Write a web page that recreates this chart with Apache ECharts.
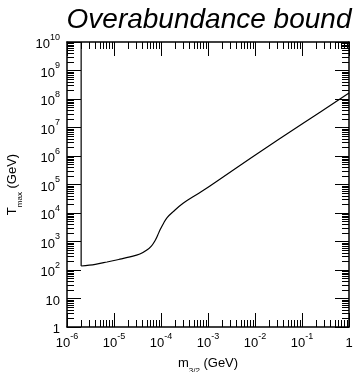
<!DOCTYPE html>
<html>
<head>
<meta charset="utf-8">
<style>
  html, body { margin: 0; padding: 0; background: #fff; }
  #chart { width: 356px; height: 372px; }
</style>
<script src="https://cdn.jsdelivr.net/npm/echarts@6/dist/echarts.min.js"></script>
</head>
<body>
<div id="chart"></div>
<script>
// Upper bound on the reheating temperature from gravitino overabundance
const titleText = 'Overabundance bound';
// Gravitino mass m_3/2 (GeV) along the bound
const massGeV = [2.0e-6, 2.0e-6, 4.0e-6, 7.1e-6, 1.26e-5, 2.19e-5, 3.55e-5, 5.0e-5, 6.3e-5, 7.4e-5,
                 8.5e-5, 9.5e-5, 1.15e-4, 1.35e-4, 1.82e-4, 2.95e-4, 5.9e-4, 1.1e-3, 1.0e-2, 0.1, 1.0];
// Maximum reheating temperature T_max (GeV)
const tMaxGeV = [1e10, 138, 158, 191, 234, 288, 363, 501, 708, 1047,
                 1660, 2512, 4571, 6918, 1.12e4, 2.19e4, 4.57e4, 8.9e4, 1.07e6, 1.32e7, 1.62e8];
// Axis ranges and decade tick values
const xDecades = [1e-6, 1e-5, 1e-4, 1e-3, 1e-2, 1e-1, 1];
const yDecades = [1, 1e1, 1e2, 1e3, 1e4, 1e5, 1e6, 1e7, 1e8, 1e9, 1e10];

function minorTicks(decades) {
  const out = [];
  for (let i = 0; i < decades.length - 1; i++) {
    for (let k = 2; k <= 9; k++) out.push(k * decades[i]);
  }
  return out;
}

function powerLabel(v) {
  const n = Math.round(Math.log10(v));
  if (n === 0) return '{b|1}';
  if (n === 1) return '{b|10}';
  return '{b|10}{s|' + n + '}';
}

const font = 'Liberation Sans, Arial, sans-serif';
const labelRich = {
  b: { fontSize: 13, fontFamily: font, color: '#000', lineHeight: 18, verticalAlign: 'bottom' },
  s: { fontSize: 9, fontFamily: font, color: '#000', lineHeight: 18, verticalAlign: 'top' }
};

function makeAxis(kind, pos, major, decades, showLine, showLabel) {
  const isX = kind === 'x';
  const ax = {
    type: 'log',
    logBase: 10,
    position: pos,
    min: decades[0],
    max: decades[decades.length - 1],
    axisLine: { show: showLine, onZero: false, lineStyle: { color: '#000', width: 1.5 } },
    axisTick: {
      show: true,
      inside: true,
      length: major ? 14 : 7,
      customValues: major ? decades : minorTicks(decades),
      lineStyle: { color: '#000', width: 1 }
    },
    axisLabel: { show: false },
    splitLine: { show: false },
    minorTick: { show: false },
    minorSplitLine: { show: false }
  };
  if (showLabel) {
    ax.axisLabel = {
      show: true,
      customValues: decades,
      margin: isX ? 5 : 7,
      formatter: powerLabel,
      rich: labelRich
    };
  }
  return ax;
}

const xAxes = [
  makeAxis('x', 'bottom', true, xDecades, true, true),
  makeAxis('x', 'bottom', false, xDecades, false, false),
  makeAxis('x', 'top', true, xDecades, true, false),
  makeAxis('x', 'top', false, xDecades, false, false)
];
const yAxes = [
  makeAxis('y', 'left', true, yDecades, true, true),
  makeAxis('y', 'left', false, yDecades, false, false),
  makeAxis('y', 'right', true, yDecades, true, false),
  makeAxis('y', 'right', false, yDecades, false, false)
];

xAxes[0].name = '{b|m}{s|3/2}{b| (GeV)}';
xAxes[0].nameLocation = 'middle';
xAxes[0].nameGap = 30;
xAxes[0].nameTextStyle = {
  rich: {
    b: { fontSize: 13, fontFamily: font, color: '#000', lineHeight: 18, verticalAlign: 'top' },
    s: { fontSize: 8, fontFamily: font, color: '#000', lineHeight: 18, verticalAlign: 'bottom' }
  }
};
yAxes[0].name = '{b|T}{s|max}{b| (GeV)}';
yAxes[0].nameLocation = 'middle';
yAxes[0].nameGap = 43;
yAxes[0].nameRotate = 90;
yAxes[0].nameTextStyle = xAxes[0].nameTextStyle;

const edge = massGeV.slice(0, 2).map((m, i) => [m, tMaxGeV[i]]);
const curve = massGeV.slice(1).map((m, i) => [m, tMaxGeV[i + 1]]);

const chart = echarts.init(document.getElementById('chart'), null, { renderer: 'canvas' });
chart.setOption({
  animation: false,
  backgroundColor: '#fff',
  title: {
    text: titleText,
    left: 204,
    textAlign: 'center',
    top: 1,
    textStyle: { fontFamily: font, fontSize: 28, fontStyle: 'italic', fontWeight: 'normal', color: '#000' }
  },
  grid: { left: 67, right: 7, top: 42, bottom: 45, containLabel: false, outerBoundsMode: 'none' },
  xAxis: xAxes,
  yAxis: yAxes,
  series: [
    {
      type: 'line', data: edge, xAxisIndex: 0, yAxisIndex: 0,
      showSymbol: false, lineStyle: { color: '#000', width: 1.2 }, clip: true
    },
    {
      type: 'line', data: curve, xAxisIndex: 0, yAxisIndex: 0, smooth: 0.35,
      showSymbol: false, lineStyle: { color: '#000', width: 1.2 }, clip: true
    }
  ]
});
</script>
</body>
</html>
